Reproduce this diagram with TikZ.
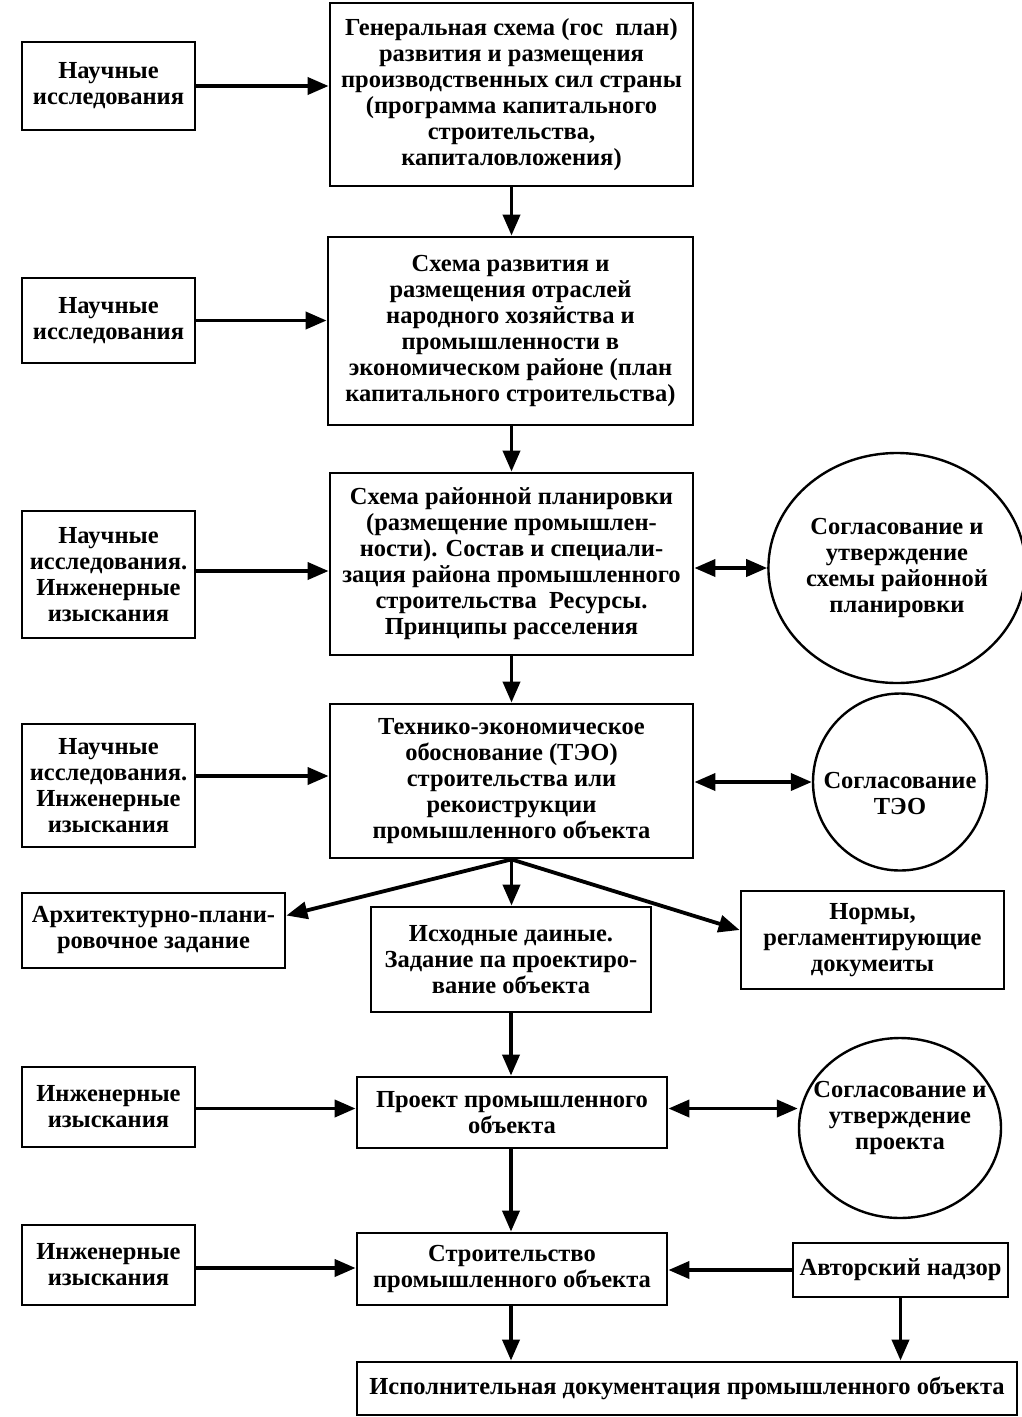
\documentclass[tikz,border=0pt]{standalone}
\usepackage{fontspec}
\setmainfont{Liberation Serif}
\usetikzlibrary{arrows.meta,shapes.geometric}
\begin{document}
\begin{tikzpicture}[x=1pt,y=-1pt,
  every node/.style={font=\bfseries\fontsize{24.5}{26}\selectfont, align=center, inner sep=0pt},
  box/.style={draw, line width=2.8pt, rectangle},
  oval/.style={draw, line width=2.4pt, ellipse},
  arr/.style={line width=3.8pt, -{Triangle[length=21pt,width=17pt]}},
  darr/.style={line width=3.8pt, {Triangle[length=21pt,width=17pt]}-{Triangle[length=21pt,width=17pt]}}]
\useasboundingbox (0,0) rectangle (1022,1417);
% main column and side boxes
\node[box, minimum width=363pt, minimum height=183pt] (gen) at (511.5,94.5) {Генеральная схема (гос\ \ план)\\ развития и размещения\\ производственных сил страны\\ (программа капитального\\ строительства,\\ капиталовложения)};
\node[box, minimum width=173pt, minimum height=88pt] (l1) at (108.5,86) {Научные\\ исследования};
\node[box, minimum width=365pt, minimum height=188pt] (sch) at (510.5,331) {Схема развития и\\ размещения отраслей\\ народного хозяйства и\\ промышленности в\\ экономическом районе (план\\ капитального строительства)};
\node[box, minimum width=173pt, minimum height=85pt] (l2) at (108.5,320.5) {Научные\\ исследования};
\node[box, minimum width=363pt, minimum height=182pt] (ray) at (511.5,564) {Схема районной планировки\\ (размещение промышлен-\\ ности). Состав и специали-\\ зация района промышленного\\ строительства\ \ Ресурсы.\\ Принципы расселения};
\node[box, minimum width=173pt, minimum height=127pt] (l3) at (108.5,574.5) {Научные\\ исследования.\\ Инженерные\\ изыскания};
\node[oval, minimum width=222pt, minimum height=230pt] (c3) at (897,568) {Согласование и\\ утверждение\\ схемы районной\\ планировки};
\node[box, minimum width=363pt, minimum height=154pt] (teo) at (511.5,781) {Технико-экономическое\\ обоснование (ТЭО)\\ строительства или\\ рекоиструкции\\ промышленного объекта};
\node[box, minimum width=173pt, minimum height=123pt] (l4) at (108.5,785.5) {Научные\\ исследования.\\ Инженерные\\ изыскания};
\node[oval, minimum width=174pt, minimum height=177pt] (c4) at (900,782) {};
\node (c4t) at ([yshift=-11pt]c4.center) {Согласование\\ ТЭО};
\node[box, minimum width=263pt, minimum height=75pt] (arch) at (153.5,930.5) {Архитектурно-плани-\\ ровочное задание};
\node[box, minimum width=280pt, minimum height=105pt] (isx) at (511,959.5) {Исходные даиные.\\ Задание па проектиро-\\ вание объекта};
\node[box, minimum width=263pt, minimum height=98pt] (norm) at (872.5,940) {Нормы,\\ регламентирующие\\ докумеиты};
\node[box, minimum width=310pt, minimum height=71pt] (proj) at (512,1112.5) {Проект промышленного\\ объекта};
\node[box, minimum width=173pt, minimum height=80pt] (l6) at (108.5,1107) {Инженерные\\ изыскания};
\node[oval, minimum width=202pt, minimum height=180pt] (c6) at (900,1128) {};
\node (c6t) at ([yshift=10pt]c6.center) {Согласование и\\ утверждение\\ проекта};
\node[box, minimum width=310pt, minimum height=72pt] (str) at (512,1269) {Строительство\\ промышленного объекта};
\node[box, minimum width=173pt, minimum height=80pt] (l7) at (108.5,1265) {Инженерные\\ изыскания};
\node[box, minimum width=215pt, minimum height=54pt] (avt) at (900.5,1270) {Авторский надзор};
\node[box, minimum width=660pt, minimum height=53pt] (isp) at (687,1388.5) {Исполнительная документация промышленного объекта};
% connectors
\draw[arr] (l1.east) -- (gen.west |- l1.east);
\draw[arr] (gen.south) -- (gen.south |- sch.north);
\draw[arr] (l2.east) -- (sch.west |- l2.east);
\draw[arr] (sch.south -| ray.north) -- (ray.north);
\draw[arr] (l3.east |- ray.west) ++(0,7) coordinate (a3) -- (ray.west |- a3);
\draw[darr] (ray.east |- c3.west) -- (c3.west);
\draw[arr] (ray.south) -- (ray.south |- teo.north);
\draw[arr] (l4.east |- teo.west) ++(0,-5) coordinate (a4) -- (teo.west |- a4);
\draw[darr] (teo.east |- c4.west) -- (c4.west);
\draw[arr] (teo.south) -- ([yshift=15pt]arch.east);
\draw[arr] (teo.south) -- ([yshift=10pt]norm.west);
\draw[arr] (teo.south) -- (teo.south |- isx.north);
\draw[arr] (isx.south) -- (isx.south |- proj.north);
\draw[arr] (l6.east |- proj.west) ++(0,-4) coordinate (a6) -- (proj.west |- a6);
\draw[darr] (proj.east |- a6) -- (c6.west |- a6);
\draw[arr] (proj.south -| isx.south) -- (isx.south |- str.north);
\draw[arr] (l7.east |- str.west) ++(0,-1) coordinate (a7) -- (str.west |- a7);
\draw[arr] (avt.west) -- (str.east |- avt.west);
\draw[arr] (str.south -| isx.south) -- (isx.south |- isp.north);
\draw[arr] (avt.south) -- (avt.south |- isp.north);
\end{tikzpicture}
\end{document}
